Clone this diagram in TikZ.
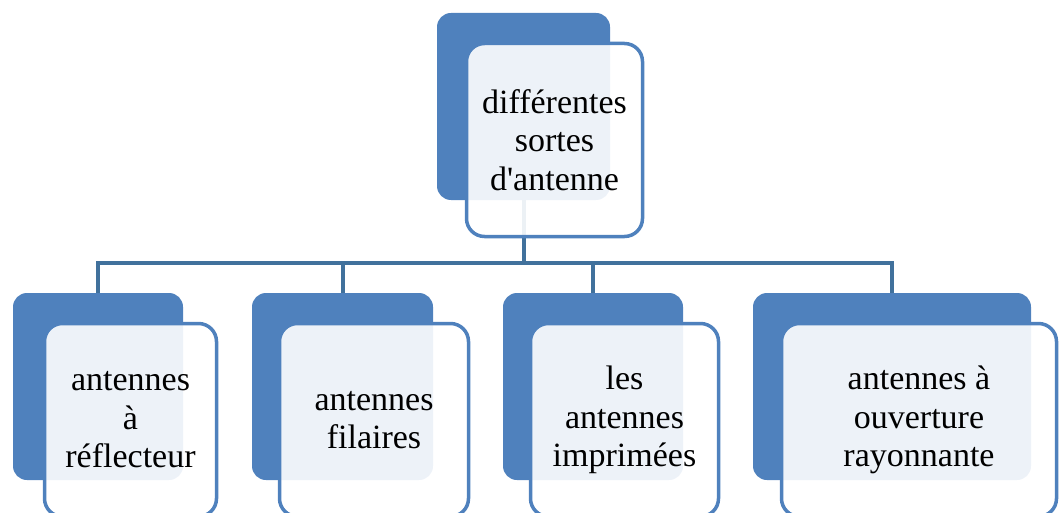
\documentclass[tikz,border=0pt]{standalone}
\usepackage{fontspec}
\setmainfont{Liberation Serif}
\definecolor{boxblue}{HTML}{4F81BD}
\definecolor{linkblue}{HTML}{41719C}
\begin{document}
\begin{tikzpicture}[x=1pt,y=-1pt,line join=miter,
	back/.style={fill=boxblue,rounded corners=14pt,inner sep=0pt,minimum height=187pt},
	front/.style={draw=boxblue,line width=3.5pt,fill=white,fill opacity=0.9,text opacity=1,rounded corners=18pt,inner sep=0pt,minimum height=193pt,align=center,font=\fontsize{34}{38.5}\selectfont},
	link/.style={draw=linkblue,line width=4pt}]
	\useasboundingbox (0,0) rectangle (1059,513);
	\clip (0,0) rectangle (1059,513);
	% back boxes
	\node[back,minimum width=173pt] (top) at (523.5,106.5) {};
	\node[back,minimum width=170pt] (c1) at (98,386.5) {};
	\node[back,minimum width=181pt] (c2) at (342.5,386.5) {};
	\node[back,minimum width=180pt] (c3) at (593,386.5) {};
	\node[back,minimum width=278pt] (c4) at (892,386.5) {};
	% connectors
	\path (top.south) ++(0,63) coordinate (bus);
	\foreach \i in {1,...,4}
		\draw[link] (top.south) -- (bus) -| (c\i.north);
	% front boxes
	\node[front,minimum width=176pt] (topf) at (554.5,140) {différentes\\sortes\\d\textquotesingle antenne};
	\node[front,minimum width=172pt] (c1f) at (130.5,420) {antennes\\à\\réflecteur};
	\node[front,minimum width=189pt] (c2f) at (374,420) {antennes\\filaires};
	\node[front,minimum width=188pt] (c3f) at (624.5,420) {les\\antennes\\imprimées};
	\node[front,minimum width=275pt] (c4f) at (919,420) {antennes à\\ouverture\\rayonnante};
\end{tikzpicture}
\end{document}
